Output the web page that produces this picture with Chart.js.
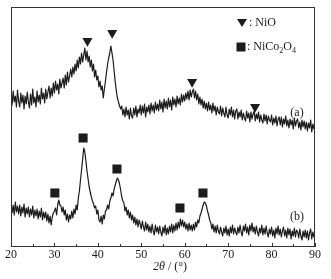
<!DOCTYPE html>
<html>
<head>
<title>XRD - NiO / NiCo2O4</title>
<script src="https://cdn.jsdelivr.net/npm/chart.js@4.4.1/dist/chart.umd.min.js"></script>
<style>
  html, body { margin: 0; padding: 0; background: #fff; }
  #container { width: 331px; height: 279px; }
</style>
</head>
<body>
<div id="container">
  <canvas id="canvas"></canvas></div>
<script>

// 2theta grid: 20 .. 90 deg, 0.25 deg step
var thetaStart = 20;
var thetaStep = 0.25;

// pattern (a), offset intensity (arb.)
var curveA = [
  153,142,156,145,151,140,157,146,
  140,154,144,152,138,151,143,155,
  145,139,153,142,158,144,150,140,
  156,145,152,143,159,148,154,144,
  158,148,155,161,149,159,151,164,
  154,166,157,163,153,168,159,164,
  169,159,172,162,175,165,171,178,
  170,180,173,183,176,187,179,190,
  183,194,185,192,199,187,196,185,
  191,180,187,176,183,170,177,167,
  171,160,166,157,161,149,158,166,
  175,183,189,194,201,194,187,176,
  165,156,149,145,141,138,141,132,
  138,130,140,132,137,128,139,131,
  129,139,132,141,130,138,134,142,
  132,141,134,143,130,140,135,142,
  133,144,136,142,134,145,137,143,
  136,147,138,145,135,148,139,146,
  138,149,140,147,137,150,142,148,
  140,151,143,149,142,153,145,152,
  146,154,148,156,147,157,150,155,
  158,149,156,147,153,143,150,142,
  148,139,146,138,144,136,145,137,
  142,134,144,136,141,132,140,135,
  133,141,131,139,134,130,140,132,
  129,138,132,140,130,137,128,136,
  138,128,135,130,137,127,134,129,
  126,136,129,134,125,135,128,133,
  136,126,133,128,135,125,132,127,
  124,133,126,132,123,131,127,125,
  132,122,129,124,131,121,128,130,
  122,130,120,128,123,131,121,127,
  119,128,122,127,118,129,121,126,
  128,119,125,117,127,120,126,118,
  125,116,124,119,127,115,123,118,
  121
];

// pattern (b)
var curveB = [
  44,34,42,32,45,35,41,33,
  42,31,40,34,43,30,39,33,
  40,30,38,32,41,29,37,31,
  38,28,36,30,39,27,35,29,
  35,26,33,24,31,22,30,34,
  36,39,32,42,47,42,41,35,
  40,32,37,27,33,25,32,28,
  36,29,38,33,42,37,49,56,
  67,77,88,99,95,86,76,68,
  60,55,50,46,43,39,41,33,
  37,27,25,31,23,32,28,36,
  37,42,38,46,49,54,51,58,
  62,66,69,67,63,57,50,46,
  44,36,40,32,37,29,35,27,
  32,24,30,22,28,20,27,23,
  18,26,20,16,25,17,23,15,
  21,14,23,16,12,22,15,20,
  13,21,15,11,20,14,22,12,
  19,13,21,15,23,14,22,16,
  24,17,25,19,28,21,27,20,
  25,18,23,16,24,17,22,16,
  23,17,25,20,27,24,31,34,
  38,42,45,44,41,36,32,27,
  24,18,23,15,21,14,22,16,
  13,20,15,11,19,14,21,12,
  18,11,20,14,22,13,19,15,
  12,20,14,22,15,11,21,16,
  23,14,20,12,22,16,24,15,
  20,13,21,15,11,19,14,22,
  12,19,13,21,14,10,18,13,
  20,11,17,9,19,13,21,12,
  18,10,16,20,11,17,9,19,
  12,18,8,16,11,19,10,17,
  15,9,18,11,7,16,10,17,
  9,16,7,14,18,8,15,10,
  12
];

// phase markers
var nioPeaksX = [37.6, 43.3, 61.7, 76.2];
var nioPeaksY = [206, 214, 165, 140];
var spinelPeaksX = [30.1, 36.6, 44.4, 58.9, 64.2];
var spinelPeaksY = [54, 109, 78, 39, 54];

var xTicks = [20, 30, 40, 50, 60, 70, 80, 90];

function toPoints(values) {
  var pts = [];
  for (var i = 0; i < values.length; i++) {
    pts.push({ x: thetaStart + i * thetaStep, y: values[i] });
  }
  return pts;
}
function zipPoints(xs, ys) {
  var pts = [];
  for (var i = 0; i < xs.length; i++) pts.push({ x: xs[i], y: ys[i] });
  return pts;
}

var serif = "'Liberation Serif', 'DejaVu Serif', serif";
var ink = '#1c1c1c';

// frame, inward ticks, legend box text, (a)/(b), axis title
var decorations = {
  id: 'decorations',
  afterDraw: function(chart) {
    var ctx = chart.ctx;
    var a = chart.chartArea;
    var xs = chart.scales.x;
    ctx.save();
    ctx.strokeStyle = '#333';
    ctx.lineWidth = 1;
    ctx.strokeRect(Math.round(a.left) + 0.5, Math.round(a.top) + 0.5,
                   Math.round(a.right - a.left) - 1, Math.round(a.bottom - a.top) - 1);

    // ticks along bottom, pointing in
    ctx.beginPath();
    for (var t = 20; t <= 90; t += 5) {
      var px = Math.round(xs.getPixelForValue(t)) + 0.5;
      var len = (t % 10 == 0) ? 4 : 3;
      ctx.moveTo(px, a.bottom);
      ctx.lineTo(px, a.bottom - len);
    }
    ctx.stroke();

    // legend
    ctx.fillStyle = ink;
    var lx = a.left + 231, ly = a.top + 16;
    ctx.beginPath();
    ctx.moveTo(lx - 5, ly - 4);
    ctx.lineTo(lx + 5, ly - 4);
    ctx.lineTo(lx, ly + 4);
    ctx.closePath();
    ctx.fill();
    ctx.fillRect(lx - 5.5, a.top + 35.5, 9, 9);

    ctx.font = '12px ' + serif;
    ctx.textBaseline = 'middle';
    ctx.textAlign = 'left';
    ctx.fillText(': NiO', lx + 7, ly);
    var ty = a.top + 40;
    var x0 = lx + 5;
    ctx.fillText(': NiCo', x0, ty);
    x0 += ctx.measureText(': NiCo').width;
    ctx.font = '8px ' + serif;
    ctx.fillText('2', x0, ty + 4);
    x0 += ctx.measureText('2').width;
    ctx.font = '12px ' + serif;
    ctx.fillText('O', x0, ty);
    x0 += ctx.measureText('O').width;
    ctx.font = '8px ' + serif;
    ctx.fillText('4', x0, ty + 4);

    // curve labels
    ctx.font = '12px ' + serif;
    ctx.textAlign = 'center';
    ctx.fillText('(a)', a.left + 286, a.top + 106);
    ctx.fillText('(b)', a.left + 286, a.top + 210);

    // axis title
    var p1 = '2\u03B8';
    ctx.font = '12px ' + serif;
    var p2 = ' / (\u00B0)';
    var w2 = ctx.measureText(p2).width;
    ctx.font = 'italic 12px ' + serif;
    var w1 = ctx.measureText(p1).width;
    var cx = 170 - (w1 + w2) / 2;
    ctx.textAlign = 'left';
    ctx.fillText(p1, cx, 267);
    ctx.font = '12px ' + serif;
    ctx.fillText(p2, cx + w1, 267);
    ctx.restore();
  }
};

var ctx = document.getElementById('canvas').getContext('2d');
var chart = new Chart(ctx, {
  type: 'line',
  data: {
    datasets: [
      { label: '(a)', data: toPoints(curveA), borderColor: ink, borderWidth: 1.2,
        borderJoinStyle: 'round', pointRadius: 0, tension: 0 },
      { label: '(b)', data: toPoints(curveB), borderColor: ink, borderWidth: 1.2,
        borderJoinStyle: 'round', pointRadius: 0, tension: 0 },
      { label: 'NiO', type: 'scatter', data: zipPoints(nioPeaksX, nioPeaksY), pointStyle: 'triangle',
        rotation: 180, radius: 5.8, backgroundColor: ink, borderWidth: 0 },
      { label: 'NiCo2O4', type: 'scatter', data: zipPoints(spinelPeaksX, spinelPeaksY), pointStyle: 'rect',
        radius: 6.4, backgroundColor: ink, borderWidth: 0 }
    ]
  },
  options: {
    responsive: true,
    maintainAspectRatio: false,
    animation: false,
    layout: { padding: { left: 11, right: 16, top: 7, bottom: 0 } },
    plugins: { legend: { display: false }, tooltip: { enabled: false } },
    scales: {
      x: {
        type: 'linear',
        min: 20, max: 90,
        afterBuildTicks: function(scale) {
          scale.ticks = xTicks.map(function(v) { return { value: v }; });
        },
        afterFit: function(scale) { scale.height = 32; },
        grid: { display: false, drawTicks: false },
        border: { display: false },
        ticks: { font: { family: serif, size: 12 }, color: ink, padding: 1, maxRotation: 0 }
      },
      y: {
        min: 0, max: 240,
        display: false
      }
    }
  },
  plugins: [decorations]
});

</script>
</body>
</html>
